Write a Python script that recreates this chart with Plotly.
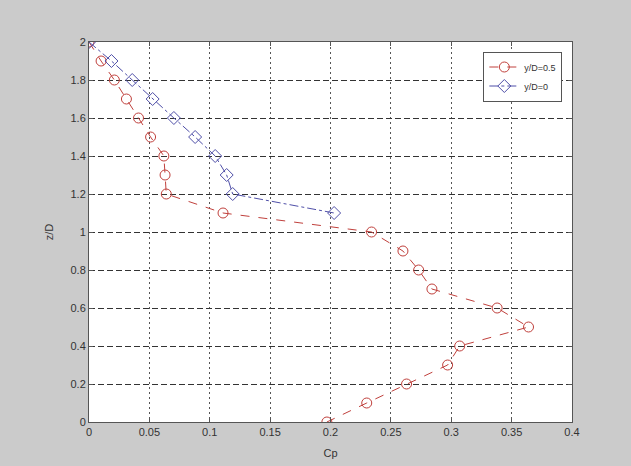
import plotly.graph_objects as go

# y/D = 0.5 series
cp_05 = [0.0, 0.010, 0.021, 0.031, 0.041, 0.051, 0.062, 0.063, 0.064, 0.111, 0.234,
         0.260, 0.273, 0.284, 0.338, 0.364, 0.307, 0.297, 0.263, 0.230, 0.197]
z_05 = [2.0, 1.9, 1.8, 1.7, 1.6, 1.5, 1.4, 1.3, 1.2, 1.1, 1.0,
        0.9, 0.8, 0.7, 0.6, 0.5, 0.4, 0.3, 0.2, 0.1, 0.0]

# y/D = 0 series
cp_0 = [0.0, 0.0186, 0.0358, 0.0527, 0.0703, 0.0879, 0.1045, 0.114, 0.119, 0.203]
z_0 = [2.0, 1.9, 1.8, 1.7, 1.6, 1.5, 1.4, 1.3, 1.2, 1.1]

x_ticks = [0, 0.05, 0.1, 0.15, 0.2, 0.25, 0.3, 0.35, 0.4]
x_labels = ["0", "0.05", "0.1", "0.15", "0.2", "0.25", "0.3", "0.35", "0.4"]
y_ticks = [0, 0.2, 0.4, 0.6, 0.8, 1, 1.2, 1.4, 1.6, 1.8, 2]
y_labels = ["0", "0.2", "0.4", "0.6", "0.8", "1", "1.2", "1.4", "1.6", "1.8", "2"]

red = "#c0403c"
blue = "#4f4fa8"
font_family = "Liberation Sans, Arial, sans-serif"

fig = go.Figure()
fig.add_trace(go.Scatter(
    x=cp_05, y=z_05, mode="lines+markers", name="y/D=0.5",
    line=dict(color=red, width=1, dash="dash"),
    marker=dict(symbol="circle-open", size=10, color=red, line=dict(width=1)),
))
fig.add_trace(go.Scatter(
    x=cp_0, y=z_0, mode="lines+markers", name="y/D=0",
    line=dict(color=blue, width=1, dash="dashdot"),
    marker=dict(symbol="diamond-open", size=10, color=blue, line=dict(width=1)),
))

axis_common = dict(
    showline=True, linecolor="#555555", linewidth=1, mirror="ticks",
    ticks="inside", ticklen=4, tickcolor="#555555",
    showgrid=True, gridwidth=1,
    zeroline=False, automargin=False,
    tickfont=dict(family=font_family, size=11, color="#333333"),
    title_font=dict(family=font_family, size=11, color="#333333"),
)

fig.update_xaxes(range=[0, 0.4], tickvals=x_ticks, ticktext=x_labels,
                 gridcolor="#555555", griddash="2px,3px",
                 title_text="Cp", title_standoff=12, **axis_common)
fig.update_yaxes(range=[0, 2], tickvals=y_ticks, ticktext=y_labels,
                 gridcolor="#333333", griddash="6px,3px",
                 title_text="z/D", title_standoff=14, **axis_common)

fig.update_layout(
    width=631, height=466,
    margin=dict(l=89, r=59, t=42, b=44),
    paper_bgcolor="#cbcbcb", plot_bgcolor="#ffffff",
    showlegend=True,
    legend=dict(
        x=0.98, y=0.975, xanchor="right", yanchor="top",
        bgcolor="#ffffff", bordercolor="#555555", borderwidth=1,
        font=dict(family=font_family, size=9, color="#333333"),
        tracegroupgap=0,
    ),
)

fig.write_html("out.html")
